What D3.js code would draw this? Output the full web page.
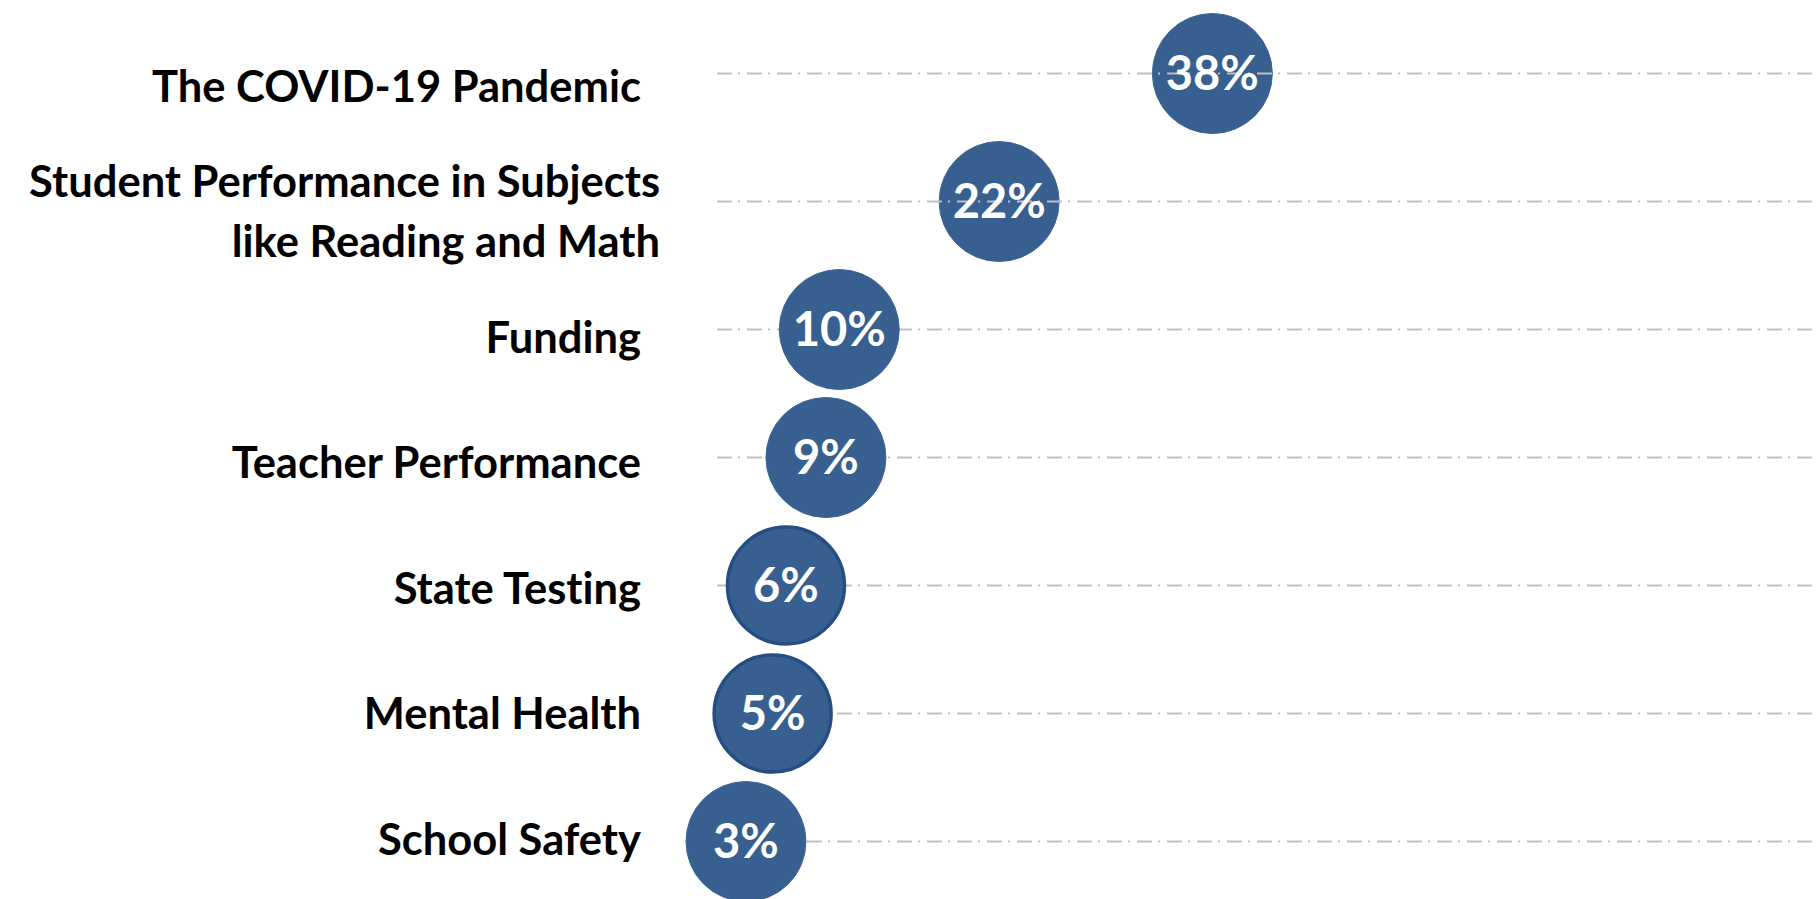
<!DOCTYPE html>
<html>
<head>
<meta charset="utf-8">
<script src="https://cdn.jsdelivr.net/npm/d3@7"></script>
<style>
  html, body { margin: 0; padding: 0; background: #fff; }
  svg { display: block; }
  text { font-variant-ligatures: none; }
</style>
</head>
<body>
<div id="chart"></div>
<script>

// categories, top to bottom
const categories = [
    'The COVID-19 Pandemic',
    'Student Performance in Subjects|like Reading and Math',
    'Funding',
    'Teacher Performance',
    'State Testing',
    'Mental Health',
    'School Safety'
];

// share of respondents (%)
const values = [38, 22, 10, 9, 6, 5, 3];

const width = 1818;
const height = 899;

const svg = d3.select('#chart')
    .append('svg')
    .attr('width', width)
    .attr('height', height);

const x = d3.scaleLinear()
    .domain([0, 40])
    .range([706, 1239]);

const y = d3.scalePoint()
    .domain(categories)
    .range([73.5, 841.5]);

// label block centres sit slightly off the rows
const yLabel = d3.scalePoint()
    .domain(categories)
    .range([86, 839]);

const rows = categories.map((c, i) => ({ cat: c, value: values[i], i: i }));

function drawLines(sel) {
    sel.append('line')
        .attr('x1', 717)
        .attr('x2', 1812)
        .attr('y1', d => y(d.cat))
        .attr('y2', d => y(d.cat))
        .attr('stroke', '#bfbfbf')
        .attr('stroke-width', 2)
        .attr('stroke-dasharray', '15,6,2,7');
}

// gridlines under the bubbles
svg.append('g')
    .selectAll('g')
    .data(rows.filter(d => d.i >= 2))
    .enter()
    .append('g')
    .call(drawLines);

// bubbles
svg.append('g')
    .selectAll('circle')
    .data(rows)
    .enter()
    .append('circle')
    .attr('cx', d => x(d.value))
    .attr('cy', d => y(d.cat))
    .attr('r', d => (d.i === 4 || d.i === 5) ? 58.5 : 60)
    .attr('fill', '#376091')
    .attr('stroke', d => (d.i === 4 || d.i === 5) ? '#254d82' : '#3f6795')
    .attr('stroke-width', d => (d.i === 4 || d.i === 5) ? 3.5 : 1);

// first two gridlines run over the bubbles
svg.append('g')
    .selectAll('g')
    .data(rows.filter(d => d.i < 2))
    .enter()
    .append('g')
    .call(drawLines);

// value labels
svg.append('g')
    .selectAll('text')
    .data(rows)
    .enter()
    .append('text')
    .attr('x', d => x(d.value))
    .attr('y', d => y(d.cat))
    .attr('dy', '0.36em')
    .attr('text-anchor', 'middle')
    .attr('fill', '#fff')
    .style('font-family', 'Lato, "Open Sans", sans-serif')
    .style('font-weight', 'bold')
    .style('font-size', '47px')
    .text(d => d.value + '%');

// category labels
const labels = svg.append('g')
    .selectAll('text')
    .data(rows)
    .enter()
    .append('text')
    .attr('text-anchor', 'end')
    .attr('fill', '#000')
    .style('font-family', 'Lato, "Open Sans", sans-serif')
    .style('font-weight', 'bold')
    .style('font-size', '43.5px');

labels.each(function (d) {
    const parts = d.cat.split('|');
    const lineH = 60;
    const top = yLabel(d.cat) - (parts.length - 1) * lineH / 2;
    d3.select(this).selectAll('tspan')
        .data(parts)
        .enter()
        .append('tspan')
        .attr('x', parts.length > 1 ? 660 : 641)
        .attr('y', (p, k) => top + k * lineH)
        .attr('dy', '0.36em')
        .text(p => p);
});

</script>
</body>
</html>
